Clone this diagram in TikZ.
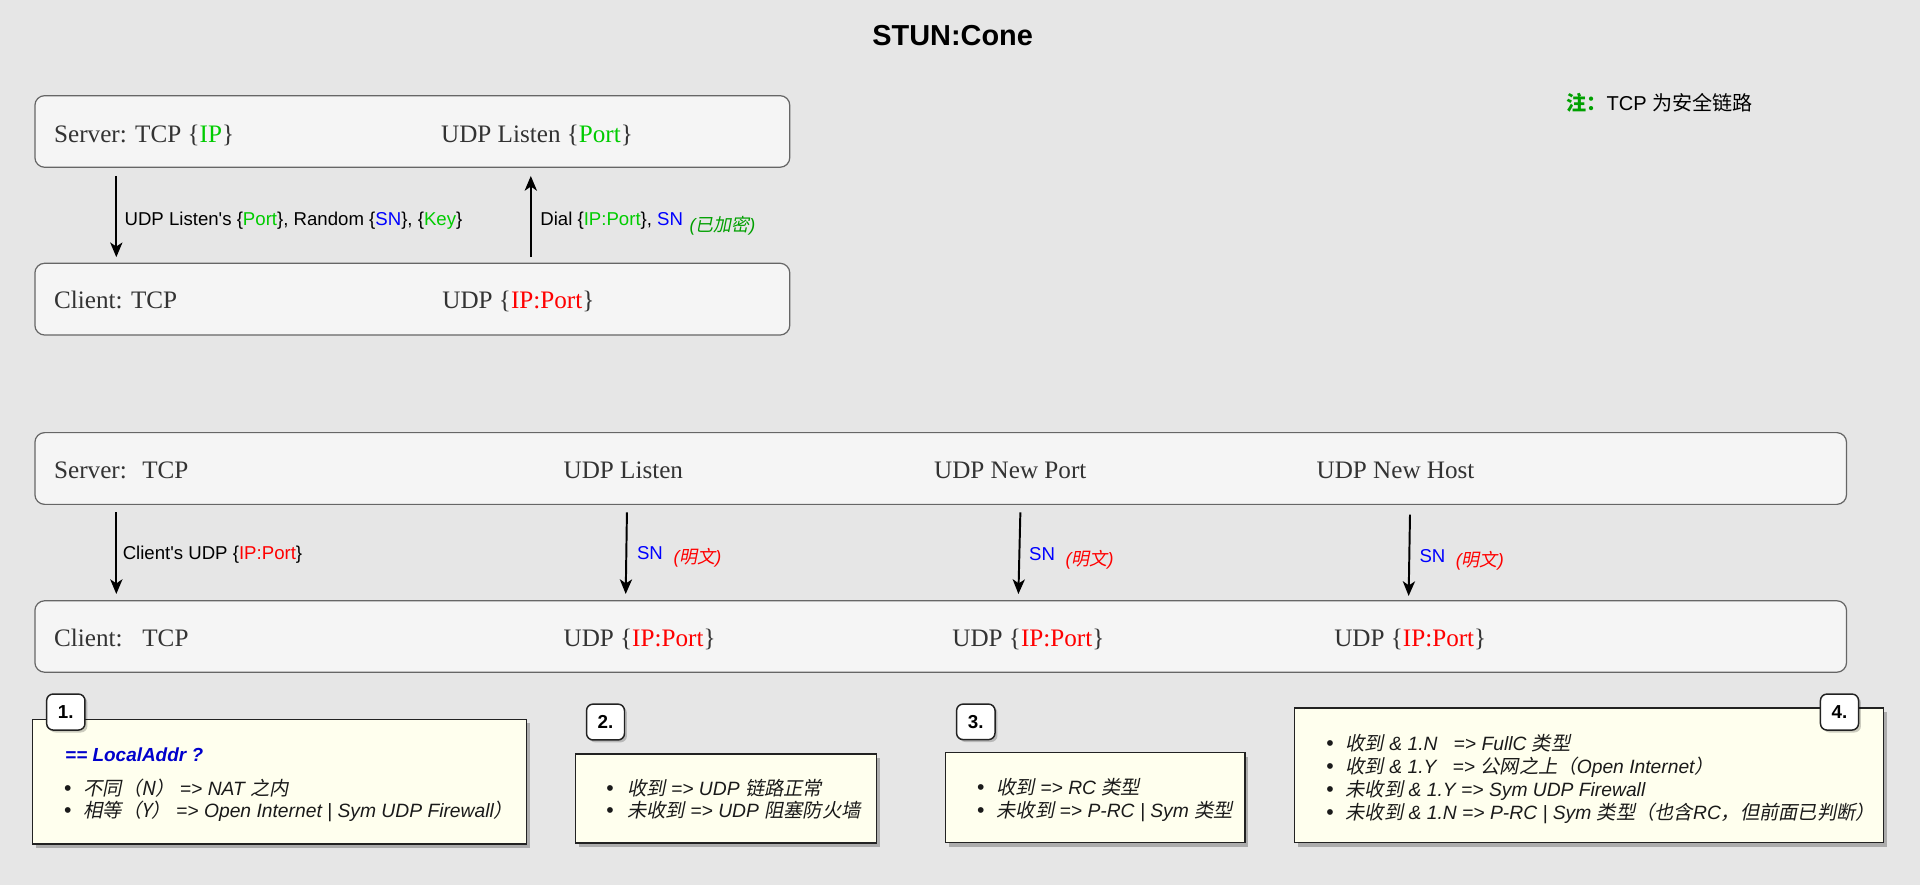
\documentclass[tikz,border=0pt]{standalone}
\usepackage{fontspec}
\setmainfont{Liberation Serif}
\setsansfont{Liberation Sans}
\newfontfamily\cjk{Noto Sans CJK SC}
\newfontfamily\cjkit[FakeSlant=0.2]{Noto Sans CJK SC}
\usetikzlibrary{fit,shadows,arrows.meta}
\definecolor{bg}{HTML}{E6E6E6}
\definecolor{boxfill}{HTML}{F5F5F5}
\definecolor{boxline}{HTML}{666666}
\definecolor{notefill}{HTML}{FFFFEE}
\definecolor{noteline}{HTML}{222222}
\definecolor{txtgray}{HTML}{333333}
\definecolor{itemtxt}{HTML}{1A1A1A}
\definecolor{cgreen}{HTML}{00CC00}
\definecolor{dgreen}{HTML}{00A000}
\definecolor{nred}{HTML}{FF0000}
\definecolor{nblue}{HTML}{0000FF}
\definecolor{locblue}{HTML}{0000CC}
\newcommand{\zh}[1]{{\cjkit\upshape #1}}
\tikzset{
 bigbox/.style={draw=boxline, fill=boxfill, rounded corners=6pt, line width=0.75pt, inner sep=0pt},
 notebox/.style={draw=noteline, fill=notefill, line width=0.9pt, inner sep=0pt,
   drop shadow={shadow xshift=2pt, shadow yshift=-2.5pt, opacity=0.25, fill=black}},
 tagbox/.style={draw=noteline, fill=white, rounded corners=4pt, line width=0.9pt, inner sep=0pt,
   drop shadow={shadow xshift=1.5pt, shadow yshift=-1.5pt, opacity=0.2, fill=black}},
 serif/.style={anchor=base west, inner sep=0pt, text=txtgray, font=\rmfamily\fontsize{15.4}{18}\selectfont},
 lbl/.style={anchor=base west, inner sep=0pt, font=\sffamily\fontsize{11.4}{13}\selectfont},
 item/.style={anchor=base west, inner sep=0pt, text=itemtxt, font=\sffamily\itshape\fontsize{11.8}{14}\selectfont},
 dot/.style={anchor=base west, inner sep=0pt, text=itemtxt, font=\sffamily\fontsize{13}{14}\selectfont},
 tagtxt/.style={inner sep=0pt, text=black, font=\sffamily\bfseries\fontsize{11.5}{14}\selectfont},
 arr/.style={-{Stealth[length=9pt,width=7.5pt,inset=2.5pt]}, line width=1.2pt, black},
}
\begin{document}
\begin{tikzpicture}[x=0.75pt,y=-0.75pt]
\useasboundingbox[fill=bg] (0,0) rectangle (1568,722.75);

% title and note
\node[anchor=base, inner sep=0pt, font=\sffamily\bfseries\fontsize{17.7}{20}\selectfont] (title) at (778,37) {STUN:Cone};
\node[anchor=base west, inner sep=0pt, font=\fontsize{12.3}{14}\selectfont] (note) at (1279,90.5)
  {{\cjk\bfseries\color{dgreen}注：}{\sffamily TCP }{\cjk 为安全链路}};

% ---------- upper section ----------
\node[bigbox, fit={(28.5,78.1) (645,136.6)}] (srv1) {};
\node[bigbox, fit={(28.5,215) (645,273.6)}] (cli1) {};
\node[serif] (s1a) at (44,116) {Server: TCP \{{\color{cgreen}IP}\}};
\node[serif] (s1b) at (360,116) {UDP Listen \{{\color{cgreen}Port}\}};
\node[serif] (c1a) at (44,252) {Client: TCP};
\node[serif] (c1b) at (361,252) {UDP \{{\color{nred}IP:Port}\}};

\coordinate (a1s) at (95,143.7);   \coordinate (a1e) at (95,210);
\coordinate (a2s) at (433.5,210);  \coordinate (a2e) at (433.5,143.7);
\draw[arr] (a1s) -- (a1e);
\draw[arr] (a2s) -- (a2e);
\node[lbl] (l1) at (101.5,184) {UDP Listen\textquotesingle s \{{\color{cgreen}Port}\}, Random \{{\color{nblue}SN}\}, \{{\color{cgreen}Key}\}};
\node[lbl] (l2) at (441,184) {Dial \{{\color{cgreen}IP:Port}\}, {\color{nblue}SN}\hspace{4pt}\raisebox{-3.6pt}{\fontsize{11}{13}\selectfont\color{dgreen}\itshape(\zh{已加密})}};

% ---------- lower section ----------
\node[bigbox, fit={(28.5,353.3) (1508,411.9)}] (srv2) {};
\node[bigbox, fit={(28.5,490.6) (1508,549)}] (cli2) {};
\node[serif] (s2a) at (44,391) {\makebox[54pt][l]{Server:}TCP};
\node[serif] (s2b) at (460,391) {UDP Listen};
\node[serif] (s2c) at (762.6,391) {UDP New Port};
\node[serif] (s2d) at (1075,391) {UDP New Host};
\node[serif] (c2a) at (44,528) {\makebox[54pt][l]{Client:}TCP};
\node[serif] (c2b) at (460,528) {UDP \{{\color{nred}IP:Port}\}};
\node[serif] (c2c) at (777.5,528) {UDP \{{\color{nred}IP:Port}\}};
\node[serif] (c2d) at (1089.4,528) {UDP \{{\color{nred}IP:Port}\}};

\coordinate (b1s) at (95,418.4);     \coordinate (b1e) at (95,485.1);
\coordinate (b2s) at (512,418.4);    \coordinate (b2e) at (511,485.1);
\coordinate (b3s) at (833.3,418.4);  \coordinate (b3e) at (831.7,485.1);
\coordinate (b4s) at (1151.5,420.3); \coordinate (b4e) at (1150.4,486.7);
\draw[arr] (b1s) -- (b1e);
\draw[arr] (b2s) -- (b2e);
\draw[arr] (b3s) -- (b3e);
\draw[arr] (b4s) -- (b4e);
\node[lbl] (m1) at (100,457) {Client\textquotesingle s UDP \{{\color{nred}IP:Port}\}};
\node[lbl] (m2) at (520,457) {{\color{nblue}SN}\hspace{6.5pt}\raisebox{-2.6pt}{\fontsize{11}{13}\selectfont\color{nred}\itshape(\zh{明文})}};
\node[lbl] (m3) at (840.2,458) {{\color{nblue}SN}\hspace{6.5pt}\raisebox{-2.6pt}{\fontsize{11}{13}\selectfont\color{nred}\itshape(\zh{明文})}};
\node[lbl] (m4) at (1159,459) {{\color{nblue}SN}\hspace{6.5pt}\raisebox{-3pt}{\fontsize{11}{13}\selectfont\color{nred}\itshape(\zh{明文})}};

% ---------- note boxes ----------
\node[notebox, fit={(26.4,587.4) (430,689.2)}] (n1) {};
\node[tagbox, fit={(38.1,566.8) (69.4,596.2)}] (g1) {};
\node[tagtxt] (g1t) at (g1.center) {1.};
\node[item, text=locblue, font=\sffamily\bfseries\itshape\fontsize{11.6}{14}\selectfont] (n1h) at (53,622) {== LocalAddr ?};
\node[dot] (n1d1) at (52,650) {•};
\node[item] (n1i1) at (68,650) {\zh{不同（N）} => NAT \zh{之内}};
\node[dot] (n1d2) at (52,667.5) {•};
\node[item] (n1i2) at (68,667.5) {\zh{相等（Y）} => Open Internet | Sym UDP Firewall\zh{）}};

\node[notebox, fit={(470,615.8) (715.8,688.4)}] (n2) {};
\node[tagbox, fit={(479,575) (510,604.3)}] (g2) {};
\node[tagtxt] (g2t) at (g2.center) {2.};
\node[dot] (n2d1) at (495,650) {•};
\node[item] (n2i1) at (512,650) {\zh{收到} => UDP \zh{链路正常}};
\node[dot] (n2d2) at (495,667.5) {•};
\node[item] (n2i2) at (512,667.5) {\zh{未收到} => UDP \zh{阻塞防火墙}};

\node[notebox, fit={(772,614.7) (1016.6,688)}] (n3) {};
\node[tagbox, fit={(781.2,575) (812.6,604)}] (g3) {};
\node[tagtxt] (g3t) at (g3.center) {3.};
\node[dot] (n3d1) at (797.7,648.5) {•};
\node[item] (n3i1) at (813.6,648.5) {\zh{收到} => RC \zh{类型}};
\node[dot] (n3d2) at (797.7,667.5) {•};
\node[item] (n3i2) at (813.6,667.5) {\zh{未收到} => P-RC | Sym \zh{类型}};

\node[notebox, fit={(1057,578) (1538,688)}] (n4) {};
\node[tagbox, fit={(1486.7,566.8) (1517.8,596.2)}] (g4) {};
\node[tagtxt] (g4t) at (g4.center) {4.};
\node[dot] (n4d1) at (1083,612.5) {•};
\node[item] (n4i1) at (1098.6,612.5) {\zh{收到} \& 1.N\ \ \ => FullC \zh{类型}};
\node[dot] (n4d2) at (1083,632) {•};
\node[item] (n4i2) at (1098.6,632) {\zh{收到} \& 1.Y\ \ \ => \zh{公网之上（}Open Internet\zh{）}};
\node[dot] (n4d3) at (1083,650.7) {•};
\node[item] (n4i3) at (1098.6,650.7) {\zh{未收到} \& 1.Y => Sym UDP Firewall};
\node[dot] (n4d4) at (1083,669) {•};
\node[item] (n4i4) at (1098.6,669) {\zh{未收到} \& 1.N => P-RC | Sym \zh{类型（也含}RC\zh{，但前面已判断）}};
\end{tikzpicture}
\end{document}
